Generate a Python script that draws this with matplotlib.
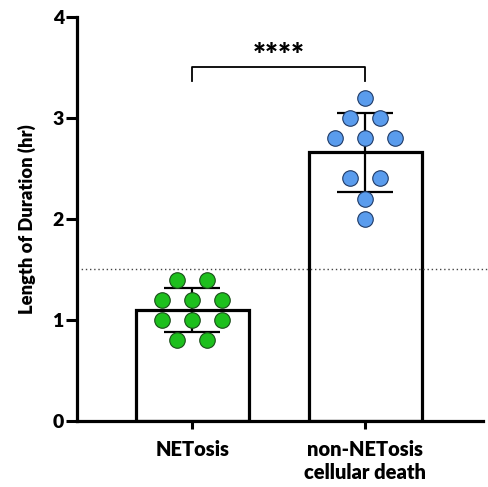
import matplotlib.pyplot as plt
import numpy as np

# values
groups = ["NETosis", "non-NETosis\ncellular death"]
netosis = [1.4, 1.4, 1.2, 1.2, 1.2, 1.0, 1.0, 1.0, 0.8, 0.8]
netosis_dx = [-0.087, 0.087, -0.173, 0, 0.173, -0.173, 0, 0.173, -0.087, 0.087]
non_netosis = [3.2, 3.0, 3.0, 2.8, 2.8, 2.8, 2.4, 2.4, 2.2, 2.0]
non_netosis_dx = [0, -0.087, 0.087, -0.173, 0, 0.173, -0.087, 0.087, 0, 0]
threshold = 1.5
sig_label = "****"

plt.rcParams['font.family'] = ['Lato', 'DejaVu Sans']
plt.rcParams['font.weight'] = 'heavy'

fig = plt.figure(figsize=(4.88, 4.87), dpi=100)
ax = fig.add_axes([0.158, 0.1355, 0.832, 0.83])

data = [netosis, non_netosis]
offsets = [netosis_dx, non_netosis_dx]
fills = ["#1dbf1d", "#5a9ced"]
edges = ["#1a4d1a", "#1f3a66"]

for i, vals in enumerate(data):
    vals = np.array(vals)
    m = vals.mean()
    sd = vals.std(ddof=1)
    ax.bar(i, m, width=0.65, color="white", edgecolor="black", linewidth=2.3, zorder=1)
    ax.errorbar(i, m, yerr=sd, color="black", capsize=20, elinewidth=1.6,
                capthick=1.6, zorder=2)
    ax.scatter(i + np.array(offsets[i]), vals, s=125, color=fills[i],
               edgecolor=edges[i], linewidth=0.8, zorder=3)

ax.axhline(threshold, xmin=0, xmax=1.02, color="#444444", linestyle=(0, (1, 2)),
           linewidth=1.0, clip_on=False, zorder=1.5)

# significance bracket
ax.plot([0, 0, 1, 1], [3.36, 3.5, 3.5, 3.36], color="black", linewidth=1.3)
ax.text(0.5, 3.47, sig_label, ha="center", va="bottom", fontsize=22, fontweight="heavy")

ax.set_xlim(-0.665, 1.68)
ax.set_ylim(0, 4)
ax.set_yticks([0, 1, 2, 3, 4])
ax.set_xticks([0, 1])
ax.set_xticklabels(groups, fontsize=14.5, fontweight="heavy")
ax.set_yticklabels([str(v) for v in [0, 1, 2, 3, 4]], fontsize=14, fontweight="heavy")
ax.tick_params(axis="y", width=2.2, length=8, pad=1.5)
ax.tick_params(axis="x", width=2.2, length=6, pad=8)
ax.set_ylabel("Length of Duration (hr)", fontsize=13.2, fontweight="heavy", labelpad=12)

for side in ["top", "right"]:
    ax.spines[side].set_visible(False)
for side in ["left", "bottom"]:
    ax.spines[side].set_linewidth(2.3)

fig.savefig("out.png", dpi=100)
